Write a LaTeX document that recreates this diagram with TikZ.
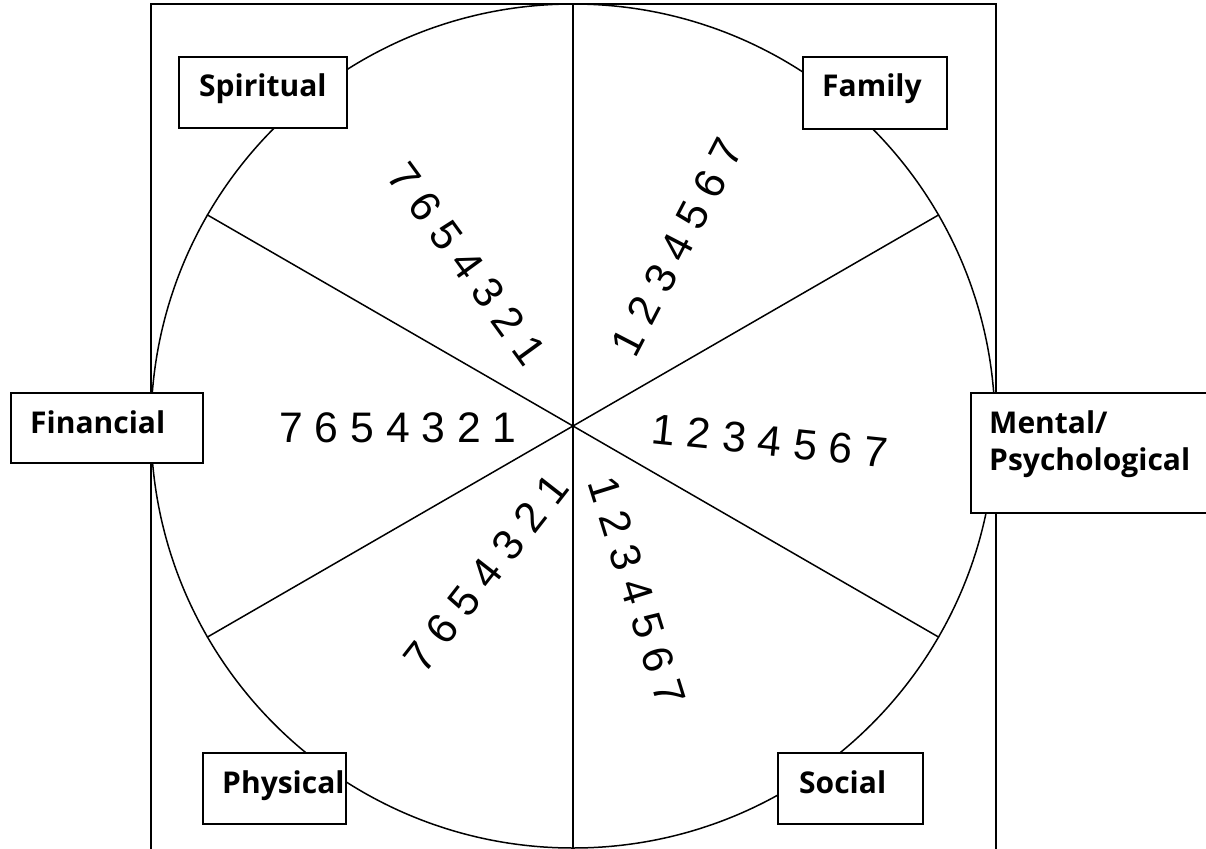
\documentclass[tikz,border=0pt]{standalone}
\usepackage{fontspec}
\newfontfamily\labfont{Open Sans}
\newfontfamily\numfont{Liberation Sans}
\begin{document}
\begin{tikzpicture}[x=1pt,y=-1pt,
  frame/.style={draw, line width=1.8pt},
  wheelline/.style={line width=1.5pt},
  box/.style={draw, fill=white, line width=2.6pt, anchor=north west, inner sep=0pt, outer sep=0pt},
  lab/.style={inner sep=0pt, anchor=base west, font=\labfont\bfseries\fontsize{30}{37}\selectfont, align=left},
  nums/.style={inner sep=0pt, font=\numfont\fontsize{42.7}{50}\selectfont}]
\useasboundingbox (0,0) rectangle (1206,848);
\fill[white] (0,0) rectangle (1206,848);
\draw[frame] (151,4) rectangle (996,858);
\node[circle, draw, line width=1.5pt, minimum size=844pt, inner sep=0pt] (wheel) at (573,426) {};
\draw[wheelline] (wheel.north) -- (wheel.south);
\draw[wheelline] (wheel.30) -- (wheel.210);
\draw[wheelline] (wheel.150) -- (wheel.330);
% numbers
\node[nums, rotate=-54] (nsp) at (467,264) {7 6 5 4 3 2 1};
\node[nums, rotate=62.6] (nfa) at (677,247) {1 2 3 4 5 6 7};
\node[nums] (nfi) at (398,428) {7 6 5 4 3 2 1};
\node[nums, rotate=-6] (nme) at (770,441) {1 2 3 4 5 6 7};
\node[nums, rotate=52] (nph) at (486,573) {7 6 5 4 3 2 1};
\node[nums, rotate=-72.7] (nso) at (637,591) {1 2 3 4 5 6 7};
% boxes
\node[box, minimum width=168pt, minimum height=71pt] (spiritual) at (179,57) {};
\node[box, minimum width=144pt, minimum height=72pt] (family) at (803,57) {};
\node[box, minimum width=192pt, minimum height=70pt] (financial) at (11,393) {};
\node[box, minimum width=240pt, minimum height=120pt] (mental) at (971,393) {};
\node[box, minimum width=143pt, minimum height=71pt] (physical) at (203,753) {};
\node[box, minimum width=145pt, minimum height=71pt] (social) at (778,753) {};
% labels
\node[lab] (tsp) at (199,97) {Spiritual};
\node[lab] (tfa) at (822,97) {Family};
\node[lab] (tfi) at (30,433) {Financial};
\node[lab] (tme) at (989,470) {Mental/\\Psychological};
\node[lab] (tph) at (222,793) {Physical};
\node[lab] (tso) at (799,793) {Social};
\end{tikzpicture}
\end{document}
